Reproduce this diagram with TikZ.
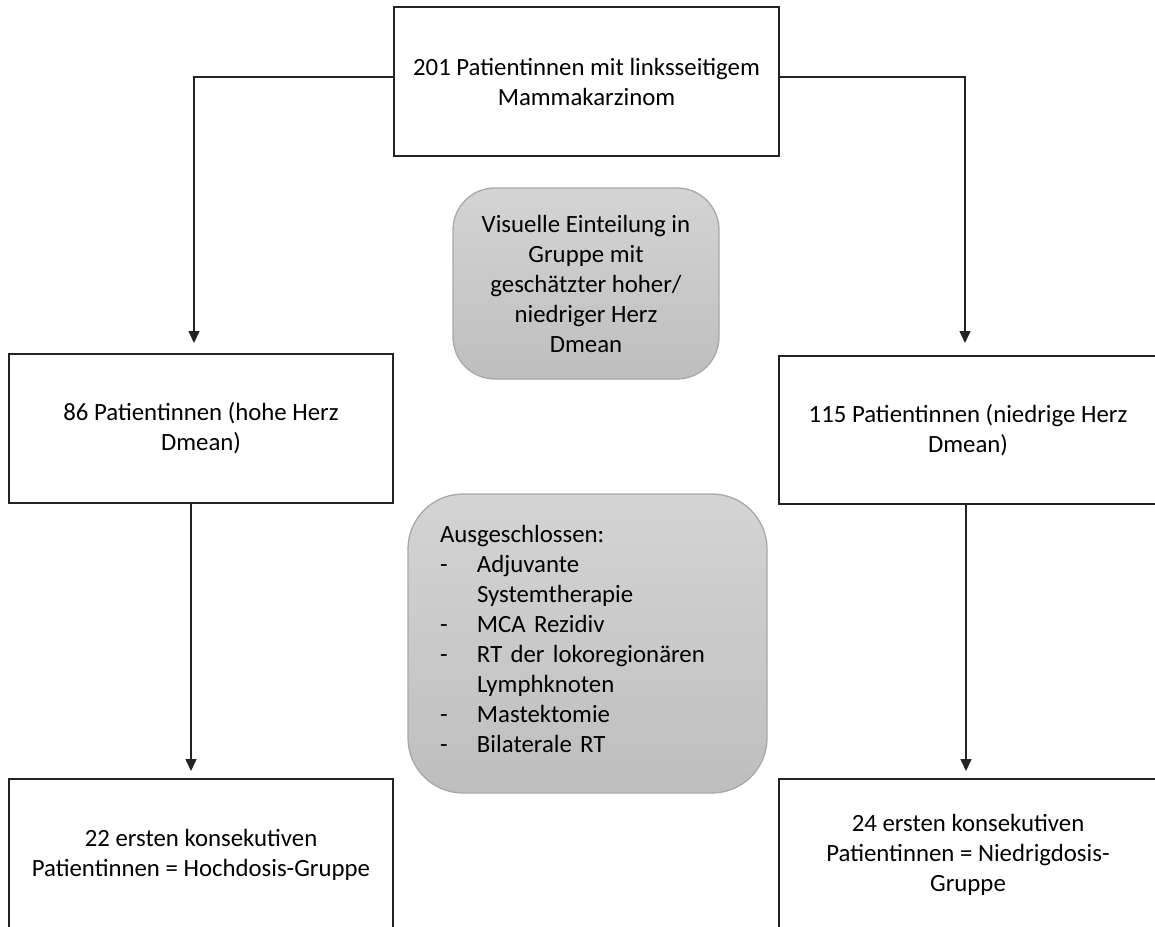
\documentclass[tikz,border=0pt]{standalone}
\usepackage{fontspec}
\setmainfont{Carlito}
\usetikzlibrary{arrows.meta,calc}
\definecolor{gtop}{RGB}{212,212,212}
\definecolor{gbot}{RGB}{190,190,190}
\definecolor{gline}{RGB}{168,168,168}
\definecolor{lcol}{RGB}{35,35,35}
\newcommand{\exitem}[2]{\hbox{\makebox[37pt][l]{#1}#2}}
\begin{document}
\begin{tikzpicture}[x=1pt,y=-1pt,
  font=\fontsize{24.8pt}{30pt}\selectfont,
  whitebox/.style={draw=lcol,line width=1.6pt,fill=white,rectangle,align=center,inner sep=0pt},
  graybox/.style={draw=gline,line width=1.3pt,top color=gtop,bottom color=gbot,rectangle,inner sep=0pt},
  arr/.style={draw=lcol,line width=1.5pt,-{Triangle[width=11pt,length=12pt]}}]
\path[use as bounding box] (0,0) rectangle (1155,926);
\clip (0,0) rectangle (1155,926);

\node[whitebox,minimum width=385pt,minimum height=149pt] (top) at (586.5,81.5)
  {201 Patientinnen mit linksseitigem\\Mammakarzinom};

\node[graybox,rounded corners=42pt,minimum width=266pt,minimum height=191pt,align=center] (vis) at (586,283.5)
  {Visuelle Einteilung in\\Gruppe mit\\geschätzter hoher/\\niedriger Herz\\Dmean};

\node[whitebox,minimum width=384pt,minimum height=149pt] (lmid) at (201,428.5)
  {86 Patientinnen (hohe Herz\\Dmean)};
\node[whitebox,minimum width=378pt,minimum height=148pt] (rmid) at (968,430)
  {115 Patientinnen (niedrige Herz\\Dmean)};

\node[graybox,rounded corners=55pt,minimum height=299pt,text width=295pt,inner xsep=32pt,align=left] (aus) at (587.5,643.5)
  {\exitem{}{}\vskip-22pt
   \hbox{Ausgeschlossen:}
   \exitem{-}{Adjuvante}
   \exitem{}{Systemtherapie}
   \exitem{-}{MCA Rezidiv}
   \exitem{-}{RT der lokoregionären}
   \exitem{}{Lymphknoten}
   \exitem{-}{Mastektomie}
   \exitem{-}{Bilaterale RT}};

\node[whitebox,minimum width=384pt,minimum height=152pt] (lbot) at (201,855)
  {22 ersten konsekutiven\\Patientinnen = Hochdosis-Gruppe};
\node[whitebox,minimum width=378pt,minimum height=152pt] (rbot) at (968,855)
  {24 ersten konsekutiven\\Patientinnen = Niedrigdosis-\\Gruppe};

\coordinate (ltip) at (194,343);
\coordinate (rtip) at (965,343);
\coordinate (ltip2) at (191,771);
\coordinate (rtip2) at (966,771);

\draw[arr] ([yshift=4.5pt]top.west) -| (ltip);
\draw[arr] ([yshift=4.5pt]top.east) -| (rtip);
\draw[arr] (lmid.south -| ltip2) -- (ltip2);
\draw[arr] (rmid.south -| rtip2) -- (rtip2);
\end{tikzpicture}
\end{document}
